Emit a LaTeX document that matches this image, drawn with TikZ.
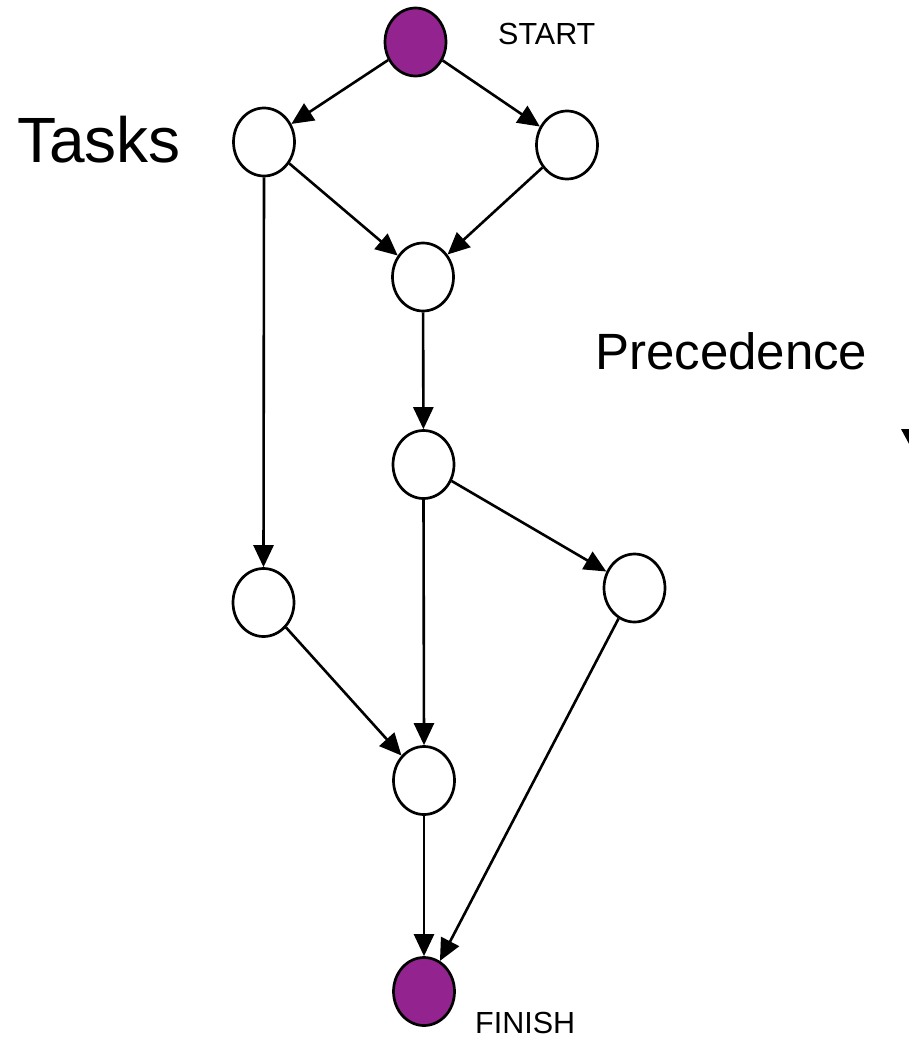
\documentclass[tikz,border=0pt]{standalone}
\usepackage{fontspec}
\setmainfont{Liberation Sans}
\usetikzlibrary{shapes.geometric,arrows.meta}
\definecolor{nodepurple}{RGB}{146,35,143}
\begin{document}
\begin{tikzpicture}[x=1pt,y=-1pt,
  task/.style={ellipse,draw=black,line width=2.7pt,fill=white,minimum width=61pt,minimum height=68pt,inner sep=0pt},
  term/.style={task,fill=nodepurple},
  edge/.style={line width=2.6pt,-{Triangle[length=22pt,width=20pt]}},
  lbl/.style={anchor=base west,inner sep=0pt,text=black}]
\useasboundingbox (0,0) rectangle (909,1039);
\node[term] (start) at (415.5,42) {};
\node[task] (t1) at (264,142) {};
\node[task] (t2) at (567,145) {};
\node[task] (t3) at (423,277) {};
\node[task] (t4) at (423.5,464.5) {};
\node[task] (t5) at (263.5,602.5) {};
\node[task] (t6) at (634.5,588) {};
\node[task] (t7) at (424,780.5) {};
\node[term] (finish) at (424,991.5) {};
\draw[edge] (start) -- (t1);
\draw[edge] (start) -- (t2);
\draw[edge] (t1) -- (t3);
\draw[edge] (t2) -- (t3);
\draw[edge] (t3) -- (t4);
\draw[edge] (t1.south) -- (t5.north);
\draw[edge] (t4) -- (t6);
\draw[edge] (t4.south) -- (t7.north);
\draw[edge] (t5) -- (t7);
\draw[edge] (t6) -- (finish);
\draw[edge] (t7.south) -- (finish.north);
\node[lbl,font=\fontsize{30.5}{36}\selectfont] (startlbl) at (498,44) {START};
\node[lbl,font=\fontsize{30.5}{36}\selectfont] (finishlbl) at (475,1033) {FINISH};
\node[lbl,font=\fontsize{64}{76}\selectfont] (tasks) at (17,162) {Tasks};
\node[lbl,font=\fontsize{51}{61}\selectfont] (prec) at (595,369) {Precedence};
\fill[black] (901,429) -- (915,429) -- (915,455) -- cycle;
\end{tikzpicture}
\end{document}
